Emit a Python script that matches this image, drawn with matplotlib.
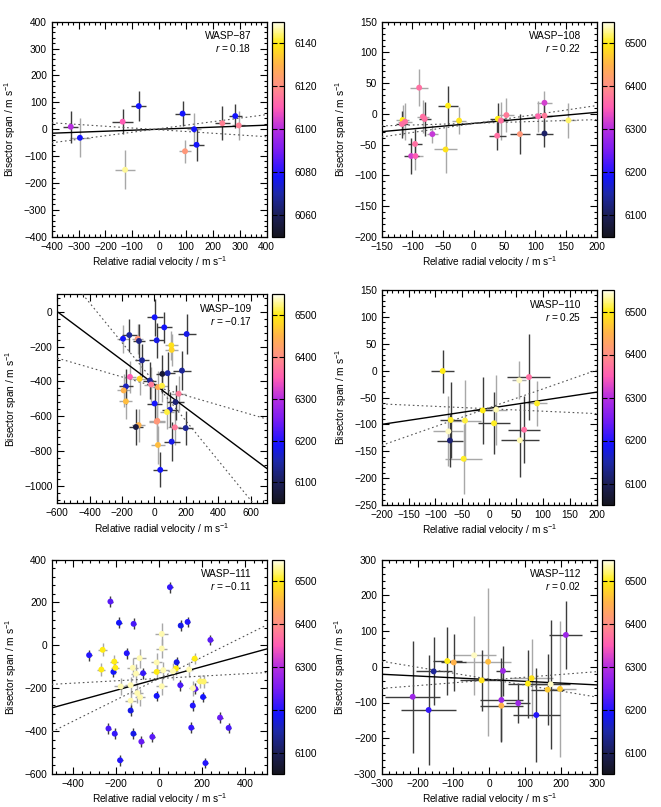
import numpy as np
import matplotlib
matplotlib.use("Agg")
import matplotlib.pyplot as plt
from matplotlib.colors import LinearSegmentedColormap, Normalize
from matplotlib.ticker import MultipleLocator, AutoMinorLocator
import matplotlib.cm as cm

plt.rcParams['font.family'] = ['Liberation Sans', 'DejaVu Sans']
plt.rcParams['mathtext.fontset'] = 'custom'
plt.rcParams['mathtext.rm'] = 'Liberation Sans'
plt.rcParams['mathtext.it'] = 'Liberation Sans:italic'

# WASP-87
w87_rv = [-329, -295, -136, -76, -127, 87, 130, 139, 96, 235, 283, 296]
w87_bis = [9, -32, 28, 86, -151, 58, 0, -58, -82, 22, 49, 14]
w87_rv_err = [28, 37, 40, 28, 37, 28, 25, 29, 22, 28, 25, 25]
w87_bis_err = [60, 73, 47, 56, 73, 46, 60, 59, 43, 64, 45, 54]
w87_teff = [6100, 6078, 6110, 6078, 6146, 6078, 6078, 6078, 6122, 6117, 6078, 6117]
w87_shade = [0, 1, 0, 0, 1, 0, 1, 0, 1, 0, 0, 1]

# WASP-108
w108_rv = [-116, -117, -112, -89, -83, -80, -67.5, -95.7, -102, -95, -42, -46, -24,
           39, 38, 44, 53, 75, 104.5, 115, 115, 115, 154]
w108_bis = [-10, -16.6, -12.8, 42.6, -4.6, -8.4, -33, -49, -68.7, -68.7, 13.3, -58, -11,
            -8, -35.6, -11, -2, -33, -4, -3, 18, -32, -10.6]
w108_rv_err = [10, 10, 12, 15, 10, 10, 9, 12, 12, 12, 16, 19, 12, 12, 14, 12, 12, 16, 10, 12, 12, 14, 12]
w108_bis_err = [25, 22, 30, 30, 27, 27, 15, 25, 29, 22, 32, 38, 22, 25, 23, 31, 27, 33, 25, 25, 20, 22, 28]
w108_teff = [6500, 6370, 6370, 6370, 6370, 6370, 6310, 6370, 6320, 6350, 6500, 6490, 6495,
             6500, 6370, 6370, 6380, 6410, 6360, 6380, 6320, 6110, 6520]
w108_shade = [1, 0, 1, 1, 1, 0, 1, 0, 0, 1, 0, 1, 1, 0, 0, 1, 1, 0, 1, 0, 1, 0, 1]

# WASP-109
w109_rv = [4, 64, 203, -192, -153, -101, -93, 17, 108, 110, -74, 52, 85, 174, -149, -89, -25,
           -17, 25, 50, -174, -188, -174, 153, 4, 134, 99, 81, 21, 17, -95, -112, 130, 197,
           25, 110, 39]
w109_bis = [-32, -90, -128, -155, -134, -155, -168, -164, -193, -219, -279, -357, -353, -338,
            -374, -385, -395, -418, -433, -425, -429, -452, -515, -471, -527, -519, -563, -576,
            -626, -631, -651, -662, -664, -668, -765, -746, -908]
w109_rv_err = [50, 45, 55, 40, 45, 35, 40, 45, 40, 40, 45, 40, 45, 55, 40, 45, 40, 45, 35, 40,
               45, 40, 40, 45, 45, 50, 50, 45, 50, 50, 40, 45, 40, 45, 45, 50, 45]
w109_bis_err = [105, 90, 115, 80, 95, 85, 95, 100, 85, 90, 95, 110, 120, 110, 90, 95, 105, 100,
                90, 95, 100, 95, 100, 100, 110, 100, 100, 95, 110, 115, 95, 105, 100, 100, 110,
                110, 100]
w109_teff = [6190, 6190, 6180, 6190, 6140, 6410, 6130, 6180, 6490, 6480, 6140, 6070, 6150, 6140,
             6350, 6480, 6140, 6380, 6440, 6510, 6160, 6450, 6460, 6380, 6190, 6120, 6170, 6510,
             6410, 6410, 6450, 6080, 6380, 6140, 6460, 6180, 6190]
w109_shade = [0, 0, 0, 1, 0, 1, 0, 0, 1, 1, 0, 0, 0, 0, 1, 1, 0, 1, 1, 1, 0, 1, 1, 1, 0, 0, 0,
              1, 1, 1, 1, 0, 1, 0, 1, 0, 0]

# WASP-110
w110_rv = [-86.5, -71.6, -76, -73, -45, -47.5, -12, 13, 9, 56, 74, 65, 57, 89]
w110_bis = [-0.7, -91.8, -113, -130, -93, -164, -74, -72.6, -98, -18, -12, -110, -129.6, -61]
w110_rv_err = [21, 20, 28, 25, 30, 35, 18, 20, 30, 13, 40, 30, 35, 18]
w110_bis_err = [40, 70, 65, 50, 75, 65, 63, 65, 58, 35, 80, 62, 68, 42]
w110_teff = [6500, 6505, 6540, 6120, 6510, 6505, 6500, 6535, 6505, 6540, 6370, 6370, 6535, 6505]
w110_shade = [0, 0, 1, 0, 1, 1, 0, 1, 0, 1, 0, 0, 0, 1]

# WASP-111
w111_rv = [-326, -227, -187, -119, 50, 100, 132, 238, -151, -213, -75, 81, 98, -12, 168, 156,
           204, -133, -236, -207, -120, -83, -32, -182, 149, 283, 323, 215,
           -263, -269, -209, -204, -12, 78, 165, 190, 207, 12, 12, -12, -91, -123, -108, -179,
           -133, -102, -133, 12, 19, 64, 139, 157, -89]
w111_bis = [-46, 204, 105, 100, 271, 92, 109, 25, -37, -124, -130, -79, -186, -236, -203, -281,
            -241, -304, -388, -412, -412, -449, -427, -536, -384, -337, -385, -549,
            -21, -113, -76, -105, -124, -108, -62, -168, -169, 53, -15, -80, -60, -105, -132,
            -192, -186, -223, -258, -191, -116, -121, -113, -200, -242]
w111_rv_err = [12] * 28 + [20, 18, 18, 18, 25, 20, 15, 20, 20, 30, 25, 25, 30, 25, 25, 30,
                           25, 25, 25, 25, 25, 25, 20, 20, 25]
w111_bis_err = [25] * 28 + [30, 30, 30, 30, 35, 30, 25, 30, 30, 50, 45, 45, 45, 45, 45, 40,
                            40, 45, 40, 40, 40, 40, 35, 35, 40]
w111_teff = [6200, 6230, 6190, 6220, 6210, 6180, 6200, 6230, 6200, 6190, 6210, 6180, 6220, 6190,
             6230, 6200, 6190, 6180, 6220, 6210, 6180, 6240, 6230, 6200, 6210, 6240, 6220, 6200,
             6500, 6500, 6500, 6500, 6500, 6500, 6500, 6520, 6520, 6535, 6535, 6535, 6535, 6535,
             6535, 6535, 6535, 6535, 6535, 6535, 6535, 6535, 6535, 6535, 6535]
w111_shade = [0] * 28 + [1] * 25

# WASP-112
w112_rv = [-213.5, -169, -155, -117, -99, -42, -3, -21, 38.5, 34, 34, 81, 131.5, 118.5, 108,
           171.5, 163, 197.6, 214]
w112_bis = [-84, -121, -13, 16, 12, 32, 14, -38, -11.5, -93, -109, -102, -135, -32, -47, -49,
            -64, -62, 89]
w112_rv_err = [77, 77, 50, 40, 35, 60, 65, 60, 20, 60, 60, 33, 65, 60, 55, 55, 45, 45, 46]
w112_bis_err = [156, 153, 95, 95, 80, 110, 207, 85, 70, 118, 100, 55, 132, 110, 95, 180, 100,
                190, 95]
w112_teff = [6280, 6210, 6140, 6500, 6450, 6540, 6460, 6490, 6280, 6280, 6450, 6280, 6200, 6490,
             6500, 6540, 6470, 6470, 6280]
w112_shade = [0, 0, 0, 0, 0, 1, 1, 0, 0, 0, 0, 0, 0, 1, 0, 0, 0, 1, 0]

# fit lines: slope, intercept, pivot x, lower/upper slope
names = ['WASP\u221287', 'WASP\u2212108', 'WASP\u2212109', 'WASP\u2212110', 'WASP\u2212111', 'WASP\u2212112']
r_values = ['0.18', '0.22', '\u22120.17', '0.25', '\u22120.11', '0.02']
fit_slope = [0.0375, 0.0897, -0.692, 0.15, 0.275, -0.0495]
fit_icpt = [0.0, -15.5, -415.0, -70.0, -154.5, -35.85]
fit_x0 = [-20, 4, 30, -5, 0, 10]
fit_slope_a = [-0.065, 0.029, -0.269, -0.045, 0.055, -0.167]
fit_slope_b = [0.131, 0.146, -1.133, 0.35, 0.498, 0.078]

panels = [
    (w87_rv, w87_bis, w87_rv_err, w87_bis_err, w87_teff, w87_shade),
    (w108_rv, w108_bis, w108_rv_err, w108_bis_err, w108_teff, w108_shade),
    (w109_rv, w109_bis, w109_rv_err, w109_bis_err, w109_teff, w109_shade),
    (w110_rv, w110_bis, w110_rv_err, w110_bis_err, w110_teff, w110_shade),
    (w111_rv, w111_bis, w111_rv_err, w111_bis_err, w111_teff, w111_shade),
    (w112_rv, w112_bis, w112_rv_err, w112_bis_err, w112_teff, w112_shade),
]

xlims = [(-400, 400), (-150, 200), (-600, 700), (-200, 200), (-500, 500), (-300, 300)]
ylims = [(-400, 400), (-200, 150), (-1100, 100), (-250, 150), (-600, 400), (-300, 300)]
xmaj = [100, 50, 200, 50, 200, 100]
ymaj = [100, 50, 200, 50, 200, 100]
cranges = [(6050, 6150)] + [(6050, 6550)] * 5
cticks = [np.arange(6060, 6141, 20)] + [np.arange(6100, 6501, 100)] * 5

# pixel boxes (left, top, right, bottom)
boxes = [(51.7, 21.7, 266.7, 236.7), (381.7, 21.7, 596.7, 236.7),
         (57.3, 294.3, 266.7, 503.3), (381.7, 290, 596.7, 505),
         (51.7, 559.5, 266.7, 774), (381.7, 559.5, 596.7, 774)]

cmap = LinearSegmentedColormap.from_list('teff', [
    (0.0, '#15151f'), (0.1, '#1c1f58'), (0.2, '#1d28a8'), (0.28, '#1414ff'),
    (0.4, '#7a1cf2'), (0.5, '#b52ee0'), (0.6, '#ff5cb4'), (0.7, '#ff8f86'),
    (0.8, '#ffb24a'), (0.9, '#ffec10'), (1.0, '#ffffee')])

W, H = 661, 807
fs = 7.3
fig = plt.figure(figsize=(W / 100, H / 100), dpi=100)
dark, light = '#3c3c3c', '#a8a8a8'

for i, (rv, bis, rve, bise, teff, shade) in enumerate(panels):
    l, t, r, b = boxes[i]
    ax = fig.add_axes([l / W, 1 - b / H, (r - l) / W, (b - t) / H])
    rv, bis, rve, bise, teff, shade = map(np.asarray, (rv, bis, rve, bise, teff, shade))
    norm = Normalize(*cranges[i])
    for s, col in ((1, light), (0, dark)):
        m = shade == s
        ax.errorbar(rv[m], bis[m], xerr=rve[m], yerr=bise[m], fmt='none',
                    ecolor=col, elinewidth=1.0, capsize=0, zorder=2)
    xs = np.array(xlims[i], dtype=float)
    ax.plot(xs, fit_icpt[i] + fit_slope[i] * xs, color='black', lw=1.0, zorder=4)
    y0 = fit_icpt[i] + fit_slope[i] * fit_x0[i]
    for sl in (fit_slope_a[i], fit_slope_b[i]):
        ax.plot(xs, y0 + sl * (xs - fit_x0[i]), color='#555555', lw=0.8,
                ls=(0, (1.5, 2.5)), zorder=4)
    ax.scatter(rv, bis, c=teff, cmap=cmap, norm=norm, s=18, edgecolors='none', zorder=5)
    ax.set_xlim(*xlims[i])
    ax.set_ylim(*ylims[i])
    ax.xaxis.set_major_locator(MultipleLocator(xmaj[i]))
    ax.yaxis.set_major_locator(MultipleLocator(ymaj[i]))
    ax.xaxis.set_minor_locator(AutoMinorLocator(5))
    ax.yaxis.set_minor_locator(AutoMinorLocator(5))
    ax.tick_params(which='both', direction='in', top=True, right=True, labelsize=fs, width=0.8)
    ax.tick_params(which='major', length=5, pad=3.5)
    ax.tick_params(which='minor', length=2.5)
    for sp in ax.spines.values():
        sp.set_linewidth(0.9)
    ax.set_xlabel('Relative radial velocity / m s$^{-1}$', fontsize=fs, labelpad=2)
    ax.set_ylabel('Bisector span / m s$^{-1}$', fontsize=fs, labelpad=4)
    ax.text(0.93, 0.955, names[i] + '\n$r$ = ' + r_values[i], transform=ax.transAxes,
            ha='right', va='top', fontsize=fs, linespacing=1.1, zorder=6)

    cax = fig.add_axes([(r + 5.2) / W, 1 - b / H, 11.6 / W, (b - t) / H])
    cb = fig.colorbar(cm.ScalarMappable(norm=norm, cmap=cmap), cax=cax, ticks=cticks[i])
    cb.outline.set_linewidth(0.9)
    cax.tick_params(direction='in', left=True, right=True, length=3.5, width=0.8,
                    labelsize=fs, pad=8)

fig.savefig('out.png', dpi=100)
